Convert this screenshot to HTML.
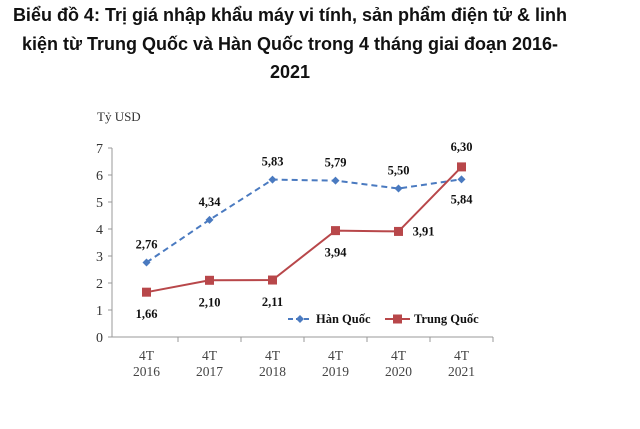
<!DOCTYPE html>
<html><head><meta charset="utf-8"><style>
body{margin:0;width:640px;height:429px;background:#fff;overflow:hidden;font-family:"Liberation Sans",sans-serif}
#title{position:absolute;left:0;top:1px;width:580px;text-align:center;font-weight:bold;font-size:18px;line-height:28.5px;color:#111;white-space:nowrap}
svg{position:absolute;left:0;top:0}
</style></head><body>
<div id="title">Biểu đồ 4: Trị giá nhập khẩu máy vi tính, sản phẩm điện tử &amp; linh<br>kiện từ Trung Quốc và Hàn Quốc trong 4 tháng giai đoạn 2016-<br>2021</div>
<svg id="c" width="640" height="429"></svg>
<script>
const categories=["2016","2017","2018","2019","2020","2021"];
const hanQuoc=[2.76,4.34,5.83,5.79,5.50,5.84];
const trungQuoc=[1.66,2.10,2.11,3.94,3.91,6.30];
const yTicks=[0,1,2,3,4,5,6,7];
const NS="http://www.w3.org/2000/svg",svg=document.getElementById('c');
const x0=115,bw=63,yBase=337,yTop=148;
const X=i=>x0+bw*(i+0.5), Y=v=>yBase-(v/7)*(yBase-yTop);
const fmt=v=>v.toFixed(2).replace('.',',');
function el(t,a,txt){const e=document.createElementNS(NS,t);for(const k in a)e.setAttribute(k,a[k]);if(txt!=null)e.textContent=txt;svg.appendChild(e);return e;}
const serif='"Liberation Serif",serif';
let t=el('text',{x:97,y:121,'font-family':serif,'font-size':13,fill:'#333'},'Tỷ USD');

let a=el('line',{x1:x0-3,y1:yTop,x2:x0-3,y2:yBase,stroke:'#999'});

a=el('line',{x1:x0-3,y1:yBase,x2:x0+bw*6,y2:yBase,stroke:'#999'});

yTicks.forEach(v=>{el('line',{x1:x0-7,y1:Y(v),x2:x0-3,y2:Y(v),stroke:'#999'});
 const l=el('text',{x:x0-12,y:Y(v)+5,'text-anchor':'end','font-family':serif,'font-size':14,fill:'#333'},v);
 });
categories.forEach((c,i)=>{el('line',{x1:x0+bw*(i+1),y1:yBase,x2:x0+bw*(i+1),y2:yBase+5,stroke:'#999'});
 const l=el('text',{x:X(i),y:yBase+23,'text-anchor':'middle','font-family':serif,'font-size':13.5,fill:'#444'});
 
 const s1=document.createElementNS(NS,'tspan');s1.setAttribute('x',X(i));s1.textContent='4T';l.appendChild(s1);
 const s2=document.createElementNS(NS,'tspan');s2.setAttribute('x',X(i));s2.setAttribute('dy',16);s2.textContent=c;l.appendChild(s2);});
const pts=d=>d.map((v,i)=>X(i)+','+Y(v)).join(' ');
let p=el('polyline',{points:pts(hanQuoc),fill:'none',stroke:'#4a7ac0','stroke-width':2,'stroke-dasharray':'6,4'});

p=el('polyline',{points:pts(trungQuoc),fill:'none',stroke:'#b8474a','stroke-width':2});

const hOff=[-18,-18,-18,-18,-18,20], tOff=[22,22,22,22,0,-20], tDx=[0,0,0,0,25,0];
hanQuoc.forEach((v,i)=>{const m=el('polygon',{points:`${X(i)},${Y(v)-4} ${X(i)+4},${Y(v)} ${X(i)},${Y(v)+4} ${X(i)-4},${Y(v)}`,fill:'#4a7ac0'});
 
 const l=el('text',{x:X(i),y:Y(v)+hOff[i]+4,'text-anchor':'middle','font-family':serif,'font-weight':'bold','font-size':12.5,fill:'#111'},fmt(v));
 });
trungQuoc.forEach((v,i)=>{const m=el('rect',{x:X(i)-4.5,y:Y(v)-4.5,width:9,height:9,fill:'#b8474a'});
 
 const l=el('text',{x:X(i)+tDx[i],y:Y(v)+tOff[i]+4,'text-anchor':'middle','font-family':serif,'font-weight':'bold','font-size':12.5,fill:'#111'},fmt(v));
 });
let g=el('line',{x1:288,y1:319,x2:312,y2:319,stroke:'#4a7ac0','stroke-width':2,'stroke-dasharray':'5,3'});

el('polygon',{points:'300,315 304,319 300,323 296,319',fill:'#4a7ac0'});
g=el('text',{x:316,y:323,'font-family':serif,'font-weight':'bold','font-size':12.5,fill:'#111'},'Hàn Quốc');

g=el('line',{x1:385,y1:319,x2:410,y2:319,stroke:'#b8474a','stroke-width':2});

el('rect',{x:393,y:314.5,width:9,height:9,fill:'#b8474a'});
g=el('text',{x:414,y:323,'font-family':serif,'font-weight':'bold','font-size':12.5,fill:'#111'},'Trung Quốc');

</script>
</body></html>
